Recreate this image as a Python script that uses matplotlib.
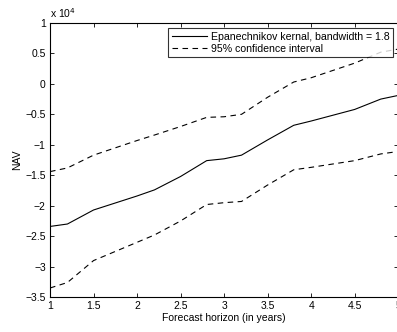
import matplotlib
matplotlib.use("Agg")
from matplotlib import pyplot as plt
from matplotlib.ticker import FuncFormatter

plt.rcParams['font.family'] = ['Liberation Sans', 'DejaVu Sans']

horizon = [1.0, 1.2, 1.5, 2.0, 2.2, 2.5, 2.8, 3.0, 3.2, 3.5, 3.8, 4.0, 4.5, 4.8, 5.0]
nav = [-23400, -23000, -20700, -18400, -17400, -15200, -12600, -12300, -11700,
       -9200, -6800, -6100, -4200, -2500, -1900]
upper = [-14400, -13800, -11700, -9300, -8400, -7000, -5500, -5400, -5000,
         -2200, 300, 1000, 3400, 5200, 5700]
lower = [-33500, -32600, -29000, -26000, -24800, -22500, -19800, -19500, -19300,
         -16600, -14100, -13700, -12600, -11500, -11100]

fig = plt.figure(figsize=(3.97, 3.32), dpi=100)
ax = fig.add_axes([0.126, 0.105, 0.877, 0.826])

ax.plot(horizon, nav, color='black', linewidth=0.8,
        label='Epanechnikov kernal, bandwidth = 1.8')
ax.plot(horizon, upper, color='black', linewidth=0.8, linestyle=(0, (5, 4)),
        label='95% confidence interval')
ax.plot(horizon, lower, color='black', linewidth=0.8, linestyle=(0, (5, 4)))

ax.set_xlim(1, 5)
ax.set_ylim(-35000, 10000)
ax.set_xticks([1, 1.5, 2, 2.5, 3, 3.5, 4, 4.5, 5])
ax.set_yticks([y * 5000 for y in range(-7, 3)])
ax.xaxis.set_major_formatter(FuncFormatter(lambda v, p: '%g' % v))
ax.yaxis.set_major_formatter(FuncFormatter(lambda v, p: ('%g' % (v / 1e4)).replace('-', '\u2212')))
ax.tick_params(direction='in', length=3, width=0.6, labelsize=7.5, top=True, right=True, pad=3)
for s in ax.spines.values():
    s.set_linewidth(0.8)

ax.text(0.0, 1.012, r'x 10$^4$', transform=ax.transAxes, fontsize=7.5, ha='left', va='bottom')
ax.set_xlabel('Forecast horizon (in years)', fontsize=7.5, labelpad=1)
ax.set_ylabel('NAV', fontsize=7.5, labelpad=2)

leg = ax.legend(loc='upper right', bbox_to_anchor=(0.985, 0.982), fontsize=7.6,
                frameon=True, fancybox=False, borderpad=0.35, labelspacing=0.2,
                handlelength=3.3, handletextpad=0.35, borderaxespad=0)
leg.get_frame().set_edgecolor('black')
leg.get_frame().set_linewidth(0.8)

fig.savefig('out.png', dpi=100)
